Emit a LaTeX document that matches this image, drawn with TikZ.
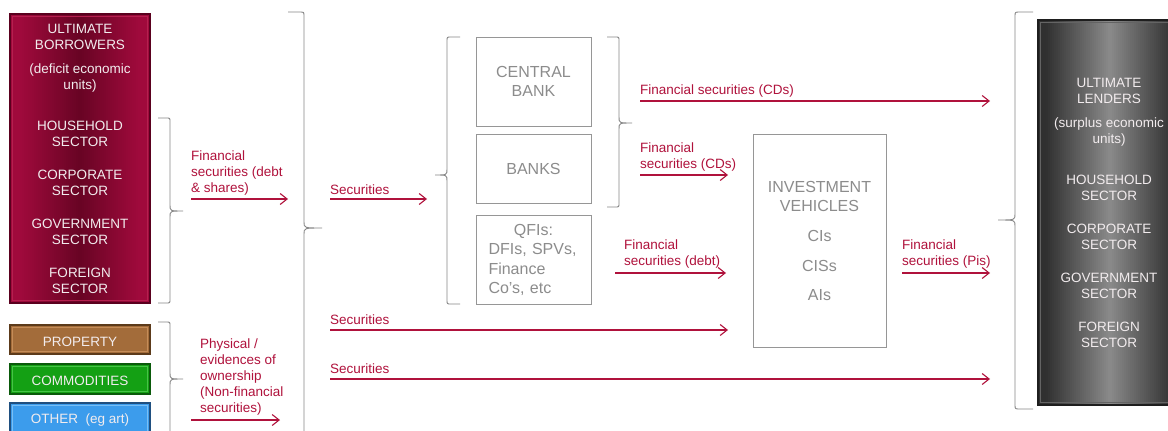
\documentclass[tikz,border=0pt]{standalone}
\usepackage{fontspec}
\setmainfont{Liberation Sans}
\usetikzlibrary{arrows.meta}
\definecolor{crim}{RGB}{176,18,60}
\definecolor{grayline}{RGB}{150,150,150}
\definecolor{graytext}{RGB}{140,140,140}
\definecolor{bracecol}{RGB}{135,135,135}
\definecolor{borA}{RGB}{160,10,60}
\definecolor{borB}{RGB}{104,4,36}
\definecolor{borD}{RGB}{90,0,30}
\definecolor{borI}{RGB}{181,32,79}
\definecolor{lenA}{RGB}{48,48,48}
\definecolor{lenB}{RGB}{138,138,138}
\definecolor{lenD}{RGB}{30,30,30}
\definecolor{lenI}{RGB}{100,100,100}
\definecolor{propF}{RGB}{163,108,58}
\definecolor{propD}{RGB}{92,58,26}
\definecolor{propI}{RGB}{196,140,88}
\definecolor{comF}{RGB}{20,160,20}
\definecolor{comD}{RGB}{10,90,10}
\definecolor{comI}{RGB}{70,195,70}
\definecolor{othF}{RGB}{60,156,236}
\definecolor{othD}{RGB}{31,79,128}
\definecolor{othI}{RGB}{120,190,245}
\definecolor{wtext}{RGB}{242,236,238}
\newcommand\brc[6]{\draw[bracestyle] (#1,#4) -- ({#2+0.3*(#1-#2)},#4) .. controls (#2,#4) .. (#2,{#4+4}) -- (#2,{#5-6}) .. controls (#2,#5) .. (#3,#5) .. controls (#2,#5) .. (#2,{#5+6}) -- (#2,{#6-4}) .. controls (#2,#6) .. ({#2+0.3*(#1-#2)},#6) -- (#1,#6);}
\begin{document}
\begin{tikzpicture}[x=1pt,y=-1pt,
  lbl/.style={text=crim, font=\fontsize{13.5}{16}\selectfont, align=left, anchor=west, inner sep=0pt},
  wlbl/.style={text=wtext, font=\fontsize{13.5}{16}\selectfont, align=center, inner sep=0pt},
  gbox/.style={draw=grayline, line width=0.9pt, text=graytext, font=\fontsize{16}{19}\selectfont, align=center, inner sep=0pt},
  arr/.style={draw=crim, line width=1.1pt, -{Straight Barb[length=7pt,width=11pt,line width=1.1pt]}},
  bracestyle/.style={draw=bracecol, line width=0.9pt},
  cbox/.style={inner sep=0pt, line width=1.2pt, minimum width=140pt}
]
\useasboundingbox (0,0) rectangle (1168,431);
\clip (0,0) rectangle (1168,431);
\fill[white] (0,0) rectangle (1168,431);

% Ultimate borrowers: gradient strips
\foreach \i in {0,...,69} {
  \pgfmathsetmacro\t{min(100,100*abs(\i-34.5)/30)}
  \fill[borA!\t!borB] ({10+2*\i},14) rectangle ({12.3+2*\i},303);
}
\node[cbox, draw=borD, minimum height=289pt] (borrowers) at (80,158.5) {};
\draw[borI, line width=0.7pt] ([shift={(3,3)}]borrowers.north west) rectangle ([shift={(-3,-3)}]borrowers.south east);
\node[wlbl] (b1) at (80,37) {ULTIMATE\\BORROWERS};
\node[wlbl] (b2) at (80,78) {(deficit economic\\units)};
\node[wlbl] (b3) at (80,134) {HOUSEHOLD\\SECTOR};
\node[wlbl] (b4) at (80,183) {CORPORATE\\SECTOR};
\node[wlbl] (b5) at (80,232) {GOVERNMENT\\SECTOR};
\node[wlbl] (b6) at (80,281) {FOREIGN\\SECTOR};

% Property / commodities / other
\node[cbox, fill=propF, draw=propD, minimum height=29pt] (prop) at (80,339.5) {};
\draw[propI, line width=0.8pt] ([shift={(3,3)}]prop.north west) rectangle ([shift={(-3,-3)}]prop.south east);
\node[wlbl] (propt) at (80,342) {PROPERTY};
\node[cbox, fill=comF, draw=comD, minimum height=30pt] (com) at (80,379) {};
\draw[comI, line width=0.8pt] ([shift={(3,3)}]com.north west) rectangle ([shift={(-3,-3)}]com.south east);
\node[wlbl] (comt) at (80,381) {COMMODITIES};
\node[cbox, fill=othF, draw=othD, minimum height=32pt] (oth) at (80,419) {};
\draw[othI, line width=0.8pt] ([shift={(3,3)}]oth.north west) rectangle ([shift={(-3,-3)}]oth.south east);
\node[wlbl] (otht) at (80,420) {OTHER~~(eg art)};

% Ultimate lenders: gradient strips
\foreach \i in {0,...,70} {
  \pgfmathsetmacro\t{min(100,100*abs(\i-35.5)/32)}
  \fill[lenA!\t!lenB] ({1038+2*\i},20) rectangle ({1040.3+2*\i},405);
}
\node[inner sep=0pt, line width=1.2pt, minimum width=142pt, minimum height=385pt, draw=lenD] (lenders) at (1109,212.5) {};
\draw[lenI, line width=0.7pt] ([shift={(3,3)}]lenders.north west) rectangle ([shift={(-3,-3)}]lenders.south east);
\node[wlbl] (l1) at (1109,91) {ULTIMATE\\LENDERS};
\node[wlbl] (l2) at (1109,132) {(surplus economic\\units)};
\node[wlbl] (l3) at (1109,188) {HOUSEHOLD\\SECTOR};
\node[wlbl] (l4) at (1109,237) {CORPORATE\\SECTOR};
\node[wlbl] (l5) at (1109,286) {GOVERNMENT\\SECTOR};
\node[wlbl] (l6) at (1109,335) {FOREIGN\\SECTOR};

% Gray institution boxes
\node[gbox, minimum width=115pt, minimum height=89pt] (cb) at (533.5,81.5) {CENTRAL\\BANK};
\node[gbox, minimum width=115pt, minimum height=69pt] (banks) at (533.5,168.5) {BANKS};
\node[gbox, minimum width=115pt, minimum height=89pt] (qfi) at (533.5,259.5) {};
\node[text=graytext, font=\fontsize{16}{19.5}\selectfont, align=left, text width=90pt, inner sep=0pt] (qfit) at (533.5,260) {\makebox[90pt]{QFIs:}\\DFIs, SPVs,\\Finance\\Co’s, etc};
\node[gbox, minimum width=133pt, minimum height=213pt] (iv) at (819.5,240.5) {INVESTMENT\\VEHICLES\\[11pt]CIs\\[11pt]CISs\\[10pt]AIs};

% Braces
\brc{158}{170}{183}{118}{211}{303}
\brc{158}{170}{183}{322}{379}{460}
\brc{288}{304}{322}{12}{228}{460}
\brc{460}{447}{435}{37}{175}{304}
\brc{607}{619}{632}{37}{123}{207}
\brc{1033}{1015}{998}{12}{220}{409}

% Labels
\node[lbl] (t1) at (191,173.5) {Financial\\securities (debt\\\& shares)};
\node[lbl] (t2) at (200,377) {Physical /\\evidences of\\ownership\\(Non-financial\\securities)};
\node[lbl] (t3) at (330,189.5) {Securities};
\node[lbl] (t4) at (640,91.5) {Financial securities (CDs)};
\node[lbl] (t5) at (640,157) {Financial\\securities (CDs)};
\node[lbl] (t6) at (624,254.5) {Financial\\securities (debt)};
\node[lbl] (t7) at (902,254.5) {Financial\\securities (Pis)};
\node[lbl] (t8) at (330,319.5) {Securities};
\node[lbl] (t9) at (330,368.5) {Securities};

% Arrows
\coordinate (a1s) at (191,199); \coordinate (a1e) at (288,199);
\coordinate (a2s) at (191,420); \coordinate (a2e) at (280,420);
\coordinate (a3s) at (330,199); \coordinate (a3e) at (427,199);
\coordinate (a4s) at (640,101); \coordinate (a4e) at (990,101);
\coordinate (a5s) at (640,175); \coordinate (a5e) at (728,175);
\coordinate (a6s) at (615,273); \coordinate (a6e) at (726,273);
\coordinate (a7s) at (902,273); \coordinate (a7e) at (990,273);
\coordinate (a8s) at (330,330); \coordinate (a8e) at (728,330);
\coordinate (a9s) at (330,379); \coordinate (a9e) at (990,379);
\foreach \i in {1,...,9} { \draw[arr] (a\i s) -- (a\i e); }
\end{tikzpicture}
\end{document}
